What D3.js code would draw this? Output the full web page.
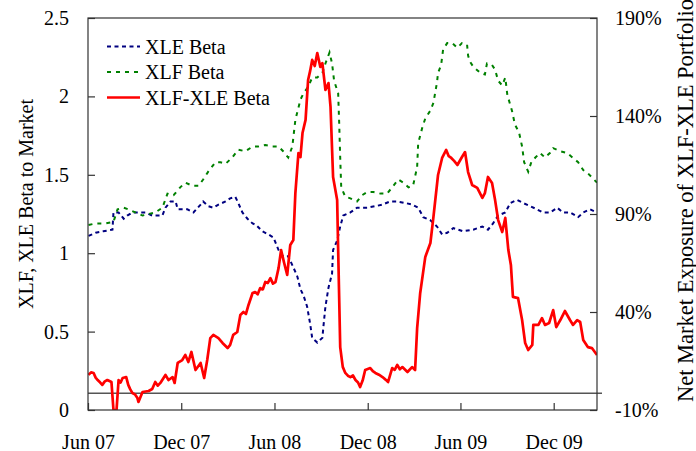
<!DOCTYPE html>
<html>
<head>
<meta charset="utf-8">
<script src="https://cdn.jsdelivr.net/npm/d3@7"></script>
<style>
  html, body { margin: 0; padding: 0; background: #fff; }
  svg { display: block; }
  text { font-family: "Liberation Serif", "Times New Roman", serif; fill: #000; }
</style>
</head>
<body>
<svg id="chart" width="696" height="451"></svg>
<script>
// ---------------- DATA ----------------
const leftTicks = [0, 0.5, 1, 1.5, 2, 2.5];
const rightTicks = [-10, 40, 90, 140, 190];
const xTicks = ["2007-06-01", "2007-12-01", "2008-06-01", "2008-12-01", "2009-06-01", "2009-12-01"];
const xDomain = ["2007-06-01", "2010-02-24"];
const referenceLevel = -1.5; // horizontal reference line (right axis units)

const seriesNames = ["XLE Beta", "XLF Beta", "XLF-XLE Beta"];

// XLE beta to market (left axis)
const xleBeta = [
["2007-06-02",1.11],["2007-06-16",1.13],["2007-07-01",1.14],["2007-07-19",1.15],["2007-07-21",1.26],
["2007-07-31",1.26],["2007-08-10",1.22],["2007-08-17",1.24],["2007-08-27",1.26],["2007-09-08",1.26],
["2007-09-22",1.26],["2007-10-05",1.24],["2007-10-25",1.24],["2007-10-31",1.29],["2007-11-10",1.33],
["2007-11-20",1.33],["2007-11-24",1.28],["2007-12-03",1.28],["2007-12-13",1.28],["2007-12-25",1.26],
["2008-01-08",1.31],["2008-01-13",1.33],["2008-01-23",1.30],["2008-02-02",1.29],["2008-02-12",1.31],
["2008-02-26",1.33],["2008-03-06",1.35],["2008-03-16",1.36],["2008-03-22",1.32],["2008-03-30",1.26],
["2008-04-09",1.22],["2008-04-19",1.19],["2008-04-26",1.18],["2008-05-08",1.14],["2008-05-20",1.12],
["2008-05-30",1.10],["2008-06-09",1.02],["2008-06-18",0.98],["2008-06-28",0.98],["2008-07-08",0.91],
["2008-07-16",0.85],["2008-07-22",0.77],["2008-07-28",0.73],["2008-08-04",0.66],["2008-08-10",0.55],
["2008-08-14",0.46],["2008-08-24",0.43],["2008-09-03",0.46],["2008-09-05",0.53],["2008-09-09",0.66],
["2008-09-15",0.78],["2008-09-22",0.87],["2008-09-24",1.02],["2008-10-02",1.08],["2008-10-08",1.17],
["2008-10-14",1.24],["2008-10-28",1.26],["2008-11-10",1.29],["2008-11-30",1.29],["2008-12-16",1.30],
["2008-12-30",1.31],["2009-01-14",1.33],["2009-01-28",1.33],["2009-02-13",1.32],["2009-02-26",1.31],
["2009-03-10",1.29],["2009-03-20",1.23],["2009-04-03",1.21],["2009-04-16",1.17],["2009-04-26",1.12],
["2009-05-06",1.13],["2009-05-18",1.16],["2009-06-06",1.14],["2009-06-26",1.15],["2009-07-14",1.17],
["2009-07-25",1.15],["2009-08-04",1.19],["2009-08-14",1.24],["2009-08-28",1.26],["2009-09-07",1.32],
["2009-09-20",1.34],["2009-10-02",1.32],["2009-10-16",1.30],["2009-10-29",1.28],["2009-11-10",1.26],
["2009-11-24",1.26],["2009-12-08",1.29],["2009-12-19",1.26],["2010-01-02",1.26],["2010-01-18",1.23],
["2010-01-28",1.26],["2010-02-10",1.28],["2010-02-24",1.26]
];

// XLF beta to market (left axis)
const xlfBeta = [
["2007-06-02",1.18],["2007-06-16",1.19],["2007-07-05",1.19],["2007-07-21",1.20],["2007-07-29",1.28],
["2007-08-10",1.29],["2007-08-19",1.28],["2007-09-02",1.26],["2007-09-16",1.24],["2007-09-28",1.25],
["2007-10-11",1.26],["2007-10-25",1.29],["2007-11-04",1.38],["2007-11-16",1.37],["2007-11-29",1.42],
["2007-12-09",1.45],["2007-12-23",1.43],["2008-01-04",1.43],["2008-01-13",1.47],["2008-01-23",1.52],
["2008-02-06",1.58],["2008-02-16",1.58],["2008-02-26",1.57],["2008-03-10",1.61],["2008-03-22",1.66],
["2008-04-05",1.65],["2008-04-19",1.68],["2008-04-30",1.68],["2008-05-14",1.69],["2008-05-28",1.68],
["2008-06-09",1.68],["2008-06-18",1.65],["2008-06-28",1.61],["2008-07-06",1.68],["2008-07-12",1.85],
["2008-07-22",1.98],["2008-07-28",2.02],["2008-08-06",2.06],["2008-08-14",2.12],["2008-08-24",2.12],
["2008-09-03",2.15],["2008-09-09",2.21],["2008-09-17",2.28],["2008-09-22",2.21],["2008-09-26",2.10],
["2008-10-04",2.02],["2008-10-06",1.83],["2008-10-08",1.61],["2008-10-10",1.42],["2008-10-18",1.36],
["2008-10-28",1.35],["2008-11-10",1.33],["2008-11-20",1.37],["2008-11-30",1.39],["2008-12-12",1.39],
["2008-12-26",1.38],["2009-01-08",1.38],["2009-01-18",1.42],["2009-01-30",1.47],["2009-02-09",1.45],
["2009-02-19",1.42],["2009-02-28",1.43],["2009-03-08",1.55],["2009-03-10",1.70],["2009-03-18",1.80],
["2009-03-24",1.86],["2009-04-03",1.91],["2009-04-09",1.96],["2009-04-16",2.09],["2009-04-18",2.15],
["2009-04-24",2.20],["2009-04-28",2.30],["2009-05-06",2.34],["2009-05-16",2.34],["2009-05-26",2.31],
["2009-06-04",2.34],["2009-06-14",2.33],["2009-06-16",2.26],["2009-06-20",2.22],["2009-06-26",2.19],
["2009-07-10",2.15],["2009-07-19",2.14],["2009-07-23",2.21],["2009-08-02",2.20],["2009-08-08",2.17],
["2009-08-14",2.10],["2009-08-22",2.07],["2009-08-28",2.12],["2009-09-01",2.01],["2009-09-10",1.91],
["2009-09-16",1.82],["2009-09-24",1.77],["2009-09-30",1.68],["2009-10-04",1.58],["2009-10-12",1.52],
["2009-10-18",1.58],["2009-10-26",1.61],["2009-11-04",1.64],["2009-11-14",1.61],["2009-11-24",1.64],
["2009-11-30",1.67],["2009-12-14",1.65],["2009-12-27",1.64],["2010-01-07",1.61],["2010-01-18",1.58],
["2010-01-28",1.53],["2010-02-06",1.51],["2010-02-24",1.45]
];

// Net market exposure of XLF-XLE portfolio, % (right axis)
const xlfXleExposure = [
["2007-06-02",7.9],["2007-06-07",9.2],["2007-06-12",8.9],["2007-06-16",6.5],["2007-06-20",5.3],["2007-06-25",4.0],["2007-06-29",2.8],["2007-07-04",4.6],["2007-07-09",5.3],
["2007-07-17",4.3],["2007-07-21",-10],["2007-07-27",-10],["2007-07-31",5.3],["2007-08-04",4.0],["2007-08-08",6.3],
["2007-08-15",6.8],["2007-08-19",2.8],["2007-08-23",0.5],["2007-08-27",-1.3],["2007-09-01",-2.0],["2007-09-06",-3.9],["2007-09-08",-5.9],
["2007-09-16",-0.8],["2007-09-28",-0.3],["2007-10-05",0.7],["2007-10-11",4.3],["2007-10-16",2.4],["2007-10-21",3.8],
["2007-10-31",7.9],["2007-11-06",5.3],["2007-11-14",6.8],["2007-11-18",3.8],["2007-11-24",14.0],
["2007-12-03",15.5],["2007-12-09",18.1],["2007-12-15",14.5],["2007-12-21",19.6],["2007-12-29",10.4],
["2008-01-08",14.0],["2008-01-15",6.3],["2008-01-21",15.5],["2008-01-27",26.7],["2008-02-02",28.3],
["2008-02-12",26.7],["2008-02-20",24.2],["2008-03-01",21.6],["2008-03-06",23.2],["2008-03-12",28.3],
["2008-03-20",29.8],["2008-03-26",38.5],["2008-04-01",40.0],["2008-04-06",39.0],["2008-04-11",43.6],["2008-04-19",49.7],
["2008-04-24",50.2],["2008-04-29",49.0],["2008-05-04",52.2],["2008-05-09",51.5],["2008-05-14",55.3],["2008-05-19",54.8],["2008-05-24",57.3],["2008-05-29",54.5],["2008-06-03",55.3],
["2008-06-09",62.4],["2008-06-14",71.6],["2008-06-20",65.0],["2008-06-26",58.9],["2008-07-02",74.2],
["2008-07-08",76.7],["2008-07-12",100.7],["2008-07-18",121.1],["2008-07-22",119.0],["2008-07-26",131.3],["2008-08-01",138.0],
["2008-08-06",158.4],["2008-08-10",163.0],["2008-08-14",168.6],["2008-08-19",165.5],["2008-08-24",172.1],["2008-08-30",165.0],["2008-09-03",167.0],
["2008-09-09",153.3],["2008-09-15",156.8],["2008-09-19",144.6],["2008-09-24",108.9],["2008-10-02",97.1],
["2008-10-04",71.6],["2008-10-08",22.1],["2008-10-13",12.0],["2008-10-18",8.9],["2008-10-23",7.5],["2008-10-28",6.8],["2008-11-02",7.6],["2008-11-07",5.3],
["2008-11-12",4.0],["2008-11-16",1.7],["2008-11-21",5.0],["2008-11-26",10.4],["2008-12-06",11.4],["2008-12-11",9.8],["2008-12-16",8.9],["2008-12-23",8.0],["2008-12-30",6.8],
["2009-01-05",5.5],["2009-01-10",4.3],["2009-01-18",11.4],["2009-01-23",10.5],["2009-01-28",13.0],["2009-02-02",10.8],["2009-02-07",11.9],["2009-02-17",9.4],
["2009-02-26",11.9],["2009-03-04",10.4],["2009-03-08",31.8],["2009-03-14",49.7],["2009-03-24",68.1],
["2009-04-03",75.2],["2009-04-09",88.5],["2009-04-18",109.9],["2009-04-26",118.6],["2009-05-04",122.7],
["2009-05-09",119.5],["2009-05-14",118.6],["2009-05-20",117.0],["2009-05-26",115.0],["2009-06-04",119.1],["2009-06-10",121.6],["2009-06-16",111.4],
["2009-06-24",104.8],["2009-07-04",103.3],["2009-07-14",98.2],["2009-07-19",100.7],["2009-07-25",108.9],
["2009-08-02",105.8],["2009-08-08",97.1],["2009-08-14",86.9],["2009-08-22",80.8],["2009-08-28",88.0],
["2009-09-03",71.6],["2009-09-08",64.0],["2009-09-12",47.7],["2009-09-22",47.1],["2009-09-30",35.9],
["2009-10-06",24.2],["2009-10-12",20.6],["2009-10-20",23.2],["2009-10-22",33.4],["2009-11-01",33.4],
["2009-11-08",36.9],["2009-11-14",33.4],["2009-11-22",34.4],["2009-11-30",41.0],["2009-12-06",32.3],
["2009-12-14",35.9],["2009-12-23",40.5],["2010-01-02",35.9],["2010-01-08",33.4],["2010-01-16",35.9],
["2010-01-22",34.9],["2010-01-28",25.7],["2010-02-06",22.1],["2010-02-14",21.6],["2010-02-24",18.1]
];

// ---------------- CHART ----------------
const parse = d3.utcParse("%Y-%m-%d");
const W = 696, H = 451;
const m = { left: 88, right: 99, top: 18, bottom: 41 };
const x0 = m.left, x1 = W - m.right, y0 = H - m.bottom, y1 = m.top;

const svg = d3.select("#chart");

const x = d3.scaleUtc().domain(xDomain.map(parse)).range([x0, x1]);
const yL = d3.scaleLinear().domain([0, 2.5]).range([y0, y1]);
const yR = d3.scaleLinear().domain([-10, 190]).range([y0, y1]);

const FS = 20;

svg.append("defs").append("clipPath").attr("id", "plotclip")
  .append("rect").attr("x", x0).attr("y", y1).attr("width", x1 - x0).attr("height", y0 - y1);

// reference line
svg.append("line")
  .attr("x1", x0).attr("x2", x1 + 5)
  .attr("y1", yR(referenceLevel)).attr("y2", yR(referenceLevel))
  .attr("stroke", "#555").attr("stroke-width", 1.5);

const g = svg.append("g").attr("clip-path", "url(#plotclip)");

const lineL = d3.line().x(d => x(parse(d[0]))).y(d => yL(d[1]));
const lineR = d3.line().x(d => x(parse(d[0]))).y(d => yR(d[1]));

const styles = [
  { color: "#000080", dash: "4,3.5", width: 2 },
  { color: "#008000", dash: "4,5", width: 2 },
  { color: "#ff0000", dash: null, width: 2.7 }
];

g.append("path").datum(xleBeta).attr("d", lineL)
  .attr("fill", "none").attr("stroke", styles[0].color)
  .attr("stroke-width", styles[0].width).attr("stroke-dasharray", styles[0].dash);
g.append("path").datum(xlfBeta).attr("d", lineL)
  .attr("fill", "none").attr("stroke", styles[1].color)
  .attr("stroke-width", styles[1].width).attr("stroke-dasharray", styles[1].dash);
g.append("path").datum(xlfXleExposure).attr("d", lineR)
  .attr("fill", "none").attr("stroke", styles[2].color)
  .attr("stroke-width", styles[2].width).attr("stroke-linejoin", "round");

// axes
const axisStyle = sel => {
  sel.select(".domain").remove();
  sel.selectAll("line").attr("stroke", "#333").attr("stroke-width", 1.2);
  sel.selectAll("text").attr("font-size", FS).attr("font-family", '"Liberation Serif", "Times New Roman", serif').attr("fill", "#000");
};

svg.append("g").attr("transform", `translate(${x0},0)`)
  .call(d3.axisLeft(yL).tickValues(leftTicks).tickFormat(d3.format("")).tickSize(-7).tickSizeOuter(0).tickPadding(19))
  .call(axisStyle);

svg.append("g").attr("transform", `translate(${x1},0)`)
  .call(d3.axisRight(yR).tickValues(rightTicks).tickFormat(d => d + "%").tickSize(-7).tickSizeOuter(0).tickPadding(18))
  .call(axisStyle);

const fmt = d3.utcFormat("%b %y");
svg.append("g").attr("transform", `translate(0,${y0})`)
  .call(d3.axisBottom(x).tickValues(xTicks.map(parse)).tickFormat(fmt).tickSize(-7).tickSizeOuter(0).tickPadding(25))
  .call(axisStyle);

// frame
svg.append("rect").attr("x", x0).attr("y", y1).attr("width", x1 - x0).attr("height", y0 - y1)
  .attr("fill", "none").attr("stroke", "#333").attr("stroke-width", 1.2);

// axis titles
svg.append("text")
  .attr("transform", `translate(33, ${(y0 + y1) / 2 - 10}) rotate(-90)`)
  .attr("text-anchor", "middle").attr("font-size", FS)
  .text("XLF, XLE Beta to Market");

svg.append("text")
  .attr("transform", `translate(693, 402) rotate(-90)`)
  .attr("text-anchor", "start").attr("font-size", 22.5)
  .text("Net Market Exposure of XLF-XLE Portfolio");

// legend
const legend = svg.append("g");
seriesNames.forEach((name, i) => {
  const yy = 46.5 + i * 25.5;
  legend.append("line")
    .attr("x1", 107).attr("x2", 140).attr("y1", yy).attr("y2", yy)
    .attr("stroke", styles[i].color).attr("stroke-width", styles[i].width)
    .attr("stroke-dasharray", styles[i].dash);
  legend.append("text").attr("x", 145).attr("y", yy).attr("dy", "0.35em")
    .attr("font-size", FS).text(name);
});
</script>
</body>
</html>
